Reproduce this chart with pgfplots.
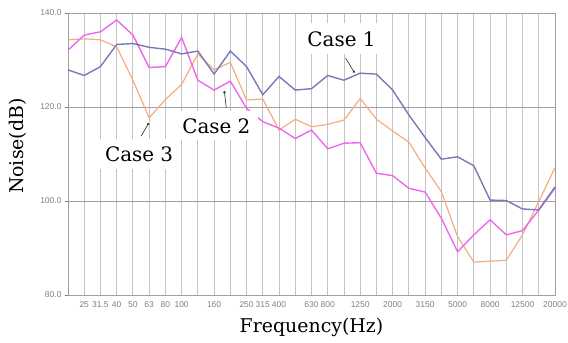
\documentclass[border=0pt]{standalone}
\usepackage{pgfplots}
\pgfplotsset{compat=1.18}
\usepackage{fontspec}
\setmainfont{DejaVu Serif}
\newfontfamily\ticksans{Liberation Sans}
\usetikzlibrary{arrows.meta}

\definecolor{caseone}{RGB}{124,120,184}
\definecolor{casetwo}{RGB}{238,104,238}
\definecolor{casethree}{RGB}{245,172,128}
\definecolor{gridlight}{RGB}{196,196,196}
\definecolor{griddark}{RGB}{160,160,160}

% one-third octave bands, 20 Hz (index 0) to 20 kHz (index 30)
\pgfplotstableread{
idx c1 c2 c3
0  127.9 132.1 134.3
1  126.7 135.3 134.5
2  128.6 136.0 134.3
3  133.3 138.5 132.8
4  133.5 135.3 125.7
5  132.7 128.4 117.7
6  132.3 128.6 121.6
7  131.3 134.8 124.8
8  131.9 125.7 131.3
9  127.0 123.6 127.9
10 131.9 125.5 129.5
11 128.6 119.7 121.5
12 122.6 116.9 121.7
13 126.5 115.5 115.1
14 123.6 113.3 117.4
15 123.9 115.1 115.8
16 126.7 111.1 116.3
17 125.7 112.3 117.2
18 127.2 112.4 121.8
19 127.0 105.9 117.4
20 123.6 105.4 114.9
21 118.3 102.7 112.5
22 113.5 101.9 107.0
23 108.9  96.3 102.0
24 109.4  89.2  92.4
25 107.5  92.8  87.0
26 100.2  96.0  87.2
27 100.1  92.8  87.4
28  98.3  93.7  92.8
29  98.1  98.1  99.9
30 103.0 102.7 107.1
}\noisedata

\begin{document}
\begin{tikzpicture}
\path[use as bounding box] (-68bp,-48bp) rectangle (500bp,295bp);
\begin{axis}[
  at={(0,0)}, anchor=south west,
  scale only axis,
  width=487bp, height=282bp,
  xmin=0, xmax=30, ymin=80, ymax=140,
  xtick={1,...,30},
  xticklabels={25,31.5,40,50,63,80,100,,160,,250,315,400,,630,800,,1250,,2000,,3150,,5000,,8000,,12500,,20000},
  ytick={80,100,120,140},
  yticklabel style={/pgf/number format/.cd,fixed,fixed zerofill,precision=1},
  /pgf/number format/assume math mode=true,
  tick label style={font=\ticksans\fontsize{8.5}{9.5}\selectfont, text=gray},
  x tick style={draw=none},
  ytick pos=left,
  tick align=outside,
  major tick length=3bp,
  y tick style={gray, line width=0.8bp},
  xmajorgrids, ymajorgrids,
  x grid style={gridlight, line width=0.9bp},
  y grid style={griddark, line width=0.9bp},
  axis line style={griddark, line width=0.9bp},
  clip=false,
]
\addplot[casethree, line width=1.2bp] table[x=idx, y=c3] {\noisedata};
\addplot[casetwo,   line width=1.4bp] table[x=idx, y=c2] {\noisedata};
\addplot[caseone,   line width=1.4bp] table[x=idx, y=c1] {\noisedata};

% axis titles
\node[anchor=base, font=\fontsize{19}{22}\selectfont] at ([yshift=-37bp]axis description cs:0.5,0) {Frequency(Hz)};
\node[rotate=90, anchor=center, font=\fontsize{19}{22}\selectfont] at ([xshift=-50bp]axis description cs:0,0.528) {Noise(dB)};

% callout labels
\node[fill=white, inner xsep=10bp, inner ysep=8bp, font=\fontsize{20}{22}\selectfont] at (axis cs:16.85,134.5) {Case 1};
\node[fill=white, inner xsep=8bp, inner ysep=7bp, font=\fontsize{20}{22}\selectfont] at (axis cs:9.14,116.0) {Case 2};
\node[fill=white, inner xsep=8bp, inner ysep=7bp, font=\fontsize{20}{22}\selectfont] at (axis cs:4.38,110.0) {Case 3};
\draw[black!75, line width=0.7bp, -{Circle[length=2.5bp]}] (axis cs:17.1,130.4) -- (axis cs:17.65,127.3);
\draw[black!75, line width=0.7bp, -{Circle[length=2.5bp]}] (axis cs:9.75,119.8) -- (axis cs:9.63,123.4);
\draw[black!75, line width=0.7bp, -{Circle[length=2.5bp]}] (axis cs:4.5,113.8) -- (axis cs:4.98,116.6);
\end{axis}
\end{tikzpicture}
\end{document}
